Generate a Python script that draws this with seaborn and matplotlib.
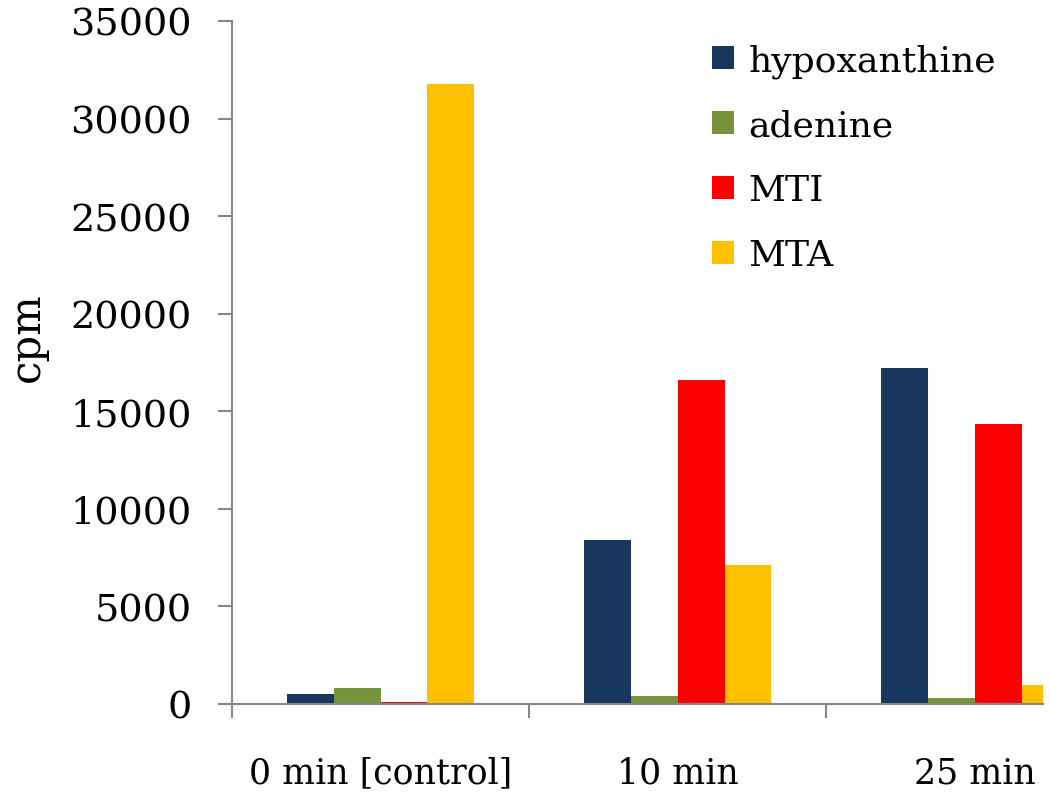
import matplotlib
matplotlib.use("Agg")
import matplotlib.pyplot as plt
import seaborn as sns
import pandas as pd
from matplotlib.patches import Patch

categories = ["0 min [control]", "10 min", "25 min"]
series = ["hypoxanthine", "adenine", "MTI", "MTA"]
hypoxanthine = [530, 8400, 17220]
adenine = [800, 410, 310]
mti = [100, 16600, 14350]
mta = [31750, 7120, 990]
colors = ["#17375E", "#77933C", "#FF0000", "#FFC000"]
y_ticks = [0, 5000, 10000, 15000, 20000, 25000, 30000, 35000]

values = {"hypoxanthine": hypoxanthine, "adenine": adenine, "MTI": mti, "MTA": mta}
rows = []
for s in series:
    for c, v in zip(categories, values[s]):
        rows.append({"time": c, "compound": s, "cpm": v})
df = pd.DataFrame(rows)

sns.set_style("white")
plt.rcParams["font.family"] = ["DejaVu Serif"]
plt.rcParams["text.color"] = "black"
plt.rcParams["axes.labelcolor"] = "black"
plt.rcParams["xtick.labelcolor"] = "black"
plt.rcParams["ytick.labelcolor"] = "black"

fig = plt.figure(figsize=(10.5, 8.03), dpi=100)
ax = fig.add_axes([232/1050, 1 - 705/803, (1043-232)/1050, (705-22)/803])

sns.barplot(data=df, x="time", y="cpm", hue="compound", order=categories,
            hue_order=series, palette=colors, width=0.632, ax=ax,
            errorbar=None, linewidth=0, saturation=1)

ax.set_xlim(-0.5, 2.23)
ax.set_ylim(0, 35000)
ax.set_yticks(y_ticks)
ax.set_yticklabels([str(t) for t in y_ticks])
ax.set_xticks([0, 1, 2])
ax.set_xticklabels(categories)
ax.set_xticks([-0.5, 0.5, 1.5], minor=True)
ax.tick_params(axis="x", which="major", length=0, pad=37, labelsize=25, labelcolor="black")
ax.tick_params(axis="x", which="minor", length=10, width=1.5, color="#868686", direction="out", bottom=True)
ax.tick_params(axis="y", which="major", length=10, width=1.5, color="#868686", direction="out", left=True, pad=19, labelsize=27.5, labelcolor="black")
ax.set_xlabel("")
ax.set_ylabel("cpm", fontsize=30, color="black")
ax.yaxis.set_label_coords(-0.227, 0.539)

for side in ["top", "right"]:
    ax.spines[side].set_visible(False)
for side in ["left", "bottom"]:
    ax.spines[side].set_color("#868686")
    ax.spines[side].set_linewidth(1.5)

handles = [Patch(facecolor=c, edgecolor="none") for c in colors]
ax.legend(handles, series, loc="upper left", bbox_to_anchor=(698/1050, 1 - 30/803),
          bbox_transform=fig.transFigure, frameon=False, fontsize=26,
          handlelength=0.6, handleheight=0.6, handletextpad=0.4, labelspacing=0.85,
          borderaxespad=0, labelcolor="black")

fig.savefig("out.png", dpi=100)
